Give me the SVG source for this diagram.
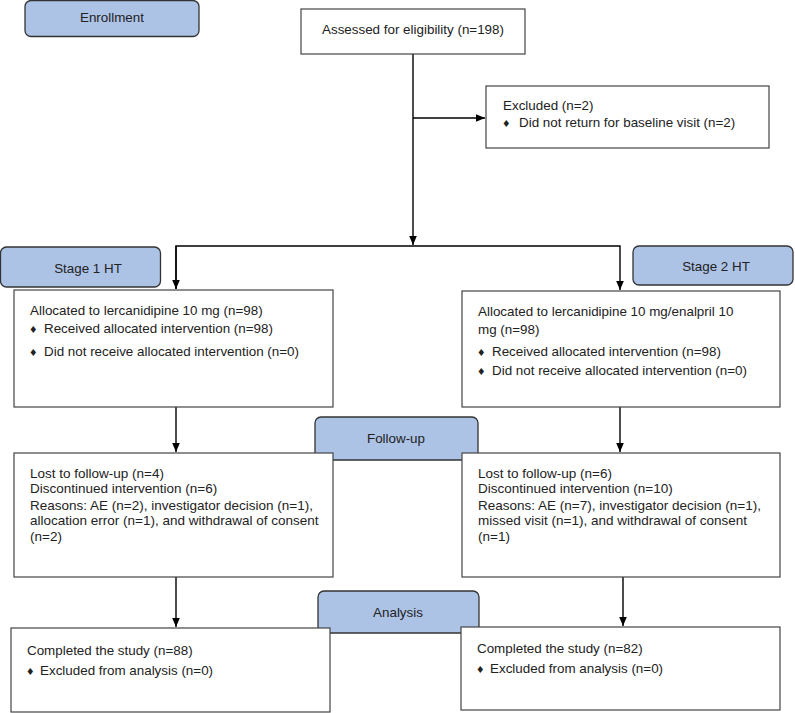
<svg xmlns="http://www.w3.org/2000/svg" width="795" height="713" viewBox="0 0 795 713">
<defs>
<marker id="ah" markerWidth="10" markerHeight="10" refX="9" refY="5" orient="auto" markerUnits="userSpaceOnUse">
<path d="M0,1.2 L9,5 L0,8.8 Z" fill="#000"/>
</marker>
<style>
.stage{fill:#adc3e6;stroke:#333;stroke-width:1.3}
.box{fill:#fff;stroke:#444;stroke-width:1.2}
text{font-family:"Liberation Sans",Arial,sans-serif;font-size:13.4px;fill:#222}
.c{text-anchor:middle}
.f{font-size:13.5px}
.b{font-family:"DejaVu Sans",sans-serif;font-size:9.5px}
.ln{fill:none;stroke:#000;stroke-width:1.4}
</style>
</defs>
<rect width="795" height="713" fill="#fff"/>
<g id="connectors">
<line class="ln" x1="413" y1="54" x2="413" y2="245" marker-end="url(#ah)"/>
<line class="ln" x1="413" y1="118" x2="485" y2="118" marker-end="url(#ah)"/>
<polyline class="ln" points="176,289 176,246 620,246 620,290" marker-end="url(#ah)"/>
<line class="ln" x1="176" y1="246" x2="176" y2="289" marker-end="url(#ah)"/>
<line class="ln" x1="176" y1="407" x2="176" y2="452" marker-end="url(#ah)"/>
<line class="ln" x1="620" y1="407" x2="620" y2="452" marker-end="url(#ah)"/>
<line class="ln" x1="176" y1="577" x2="176" y2="627" marker-end="url(#ah)"/>
<line class="ln" x1="623" y1="577" x2="623" y2="626" marker-end="url(#ah)"/>
</g>
<g id="enrollment">
<rect class="stage" x="25" y="0.5" width="174" height="36" rx="6"/>
<text class="c" x="112" y="22">Enrollment</text>
</g>
<g id="assessed">
<rect class="box" x="301" y="9" width="224" height="45"/>
<text class="c" x="413" y="34">Assessed for eligibility (n=198)</text>
</g>
<g id="excluded">
<rect class="box" x="486" y="86" width="283" height="62"/>
<text x="503" y="110">Excluded (n=2)</text>
<text class="b" x="502" y="127">♦</text>
<text x="519" y="127">Did not return for baseline visit (n=2)</text>
</g>
<g id="stage1">
<rect class="stage" x="0.5" y="247" width="160" height="40" rx="6"/>
<text class="c" x="88" y="273">Stage 1 HT</text>
</g>
<g id="stage2">
<rect class="stage" x="633" y="246" width="160" height="39" rx="6"/>
<text class="c" x="716" y="271">Stage 2 HT</text>
</g>
<g id="alloc1">
<rect class="box" x="14" y="290" width="319" height="117"/>
<text x="30" y="315">Allocated to lercanidipine 10 mg (n=98)</text>
<text class="b" x="29" y="333">♦</text>
<text x="44" y="333">Received allocated intervention (n=98)</text>
<text class="b" x="29" y="356">♦</text>
<text x="44" y="356">Did not receive allocated intervention (n=0)</text>
</g>
<g id="alloc2">
<rect class="box" x="462" y="291" width="318" height="116"/>
<text x="478" y="316">Allocated to lercanidipine 10 mg/enalpril 10</text>
<text x="478" y="334">mg (n=98)</text>
<text class="b" x="477" y="356">♦</text>
<text x="492" y="356">Received allocated intervention (n=98)</text>
<text class="b" x="477" y="375">♦</text>
<text x="492" y="375">Did not receive allocated intervention (n=0)</text>
</g>
<g id="followup">
<rect class="stage" x="315" y="417" width="163" height="43" rx="6"/>
<text class="c" x="396" y="443">Follow-up</text>
</g>
<g id="fu1">
<rect class="box" x="14" y="453" width="319" height="124"/>
<text class="f" x="30" y="478">Lost to follow-up (n=4)</text>
<text class="f" x="30" y="493">Discontinued intervention (n=6)</text>
<text class="f" x="30" y="510">Reasons: AE (n=2), investigator decision (n=1),</text>
<text class="f" x="30" y="525">allocation error (n=1), and withdrawal of consent</text>
<text class="f" x="30" y="541">(n=2)</text>
</g>
<g id="fu2">
<rect class="box" x="462" y="453" width="318" height="124"/>
<text class="f" x="478" y="478">Lost to follow-up (n=6)</text>
<text class="f" x="478" y="493">Discontinued intervention (n=10)</text>
<text class="f" x="478" y="510">Reasons: AE (n=7), investigator decision (n=1),</text>
<text class="f" x="478" y="525">missed visit (n=1), and withdrawal of consent</text>
<text class="f" x="478" y="541">(n=1)</text>
</g>
<g id="analysis">
<rect class="stage" x="318" y="591" width="161" height="42" rx="6"/>
<text class="c" x="398" y="617">Analysis</text>
</g>
<g id="an1">
<rect class="box" x="11" y="628" width="319" height="84"/>
<text x="27" y="655">Completed the study (n=88)</text>
<text class="b" x="26" y="675">♦</text>
<text x="40" y="675">Excluded from analysis (n=0)</text>
</g>
<g id="an2">
<rect class="box" x="461" y="627" width="319" height="83"/>
<text x="477" y="653">Completed the study (n=82)</text>
<text class="b" x="476" y="673">♦</text>
<text x="490" y="673">Excluded from analysis (n=0)</text>
</g>
</svg>
